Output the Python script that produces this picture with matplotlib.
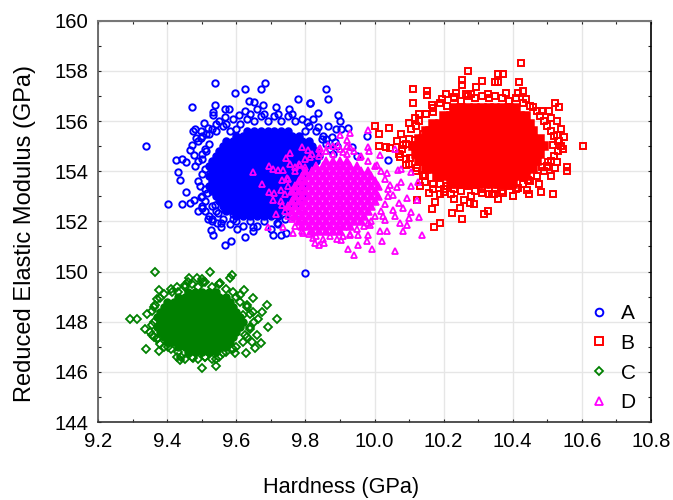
#!/usr/bin/env python3
"""Reduced elastic modulus against hardness, four phases A-D."""

import matplotlib
matplotlib.use("Agg")
import matplotlib.pyplot as plt
from matplotlib.ticker import MultipleLocator

plt.rcParams["font.family"] = ["Liberation Sans", "DejaVu Sans"]

# --- Values ------------------------------------------------------------------
NAMES = ["A", "B", "C", "D"]
X_LABEL = "Hardness (GPa)"
Y_LABEL = "Reduced Elastic Modulus (GPa)"

# Solid centre of every cloud: modulus -> hardness values (points overlap there)
A_CORE = {
    152.2: [9.60, 9.62, 9.64, 9.66, 9.68, 9.70, 9.72],
    152.4: [9.57, 9.59, 9.61, 9.63, 9.65, 9.67, 9.69, 9.71, 9.73, 9.75],
    152.6: [9.56, 9.58, 9.60, 9.62, 9.64, 9.66, 9.68, 9.70, 9.72, 9.74, 9.76, 9.78],
    152.8: [9.55, 9.57, 9.59, 9.61, 9.63, 9.65, 9.67, 9.69, 9.71, 9.73, 9.75, 9.77, 9.79],
    153.0: [9.54, 9.56, 9.58, 9.60, 9.62, 9.64, 9.66, 9.68, 9.70, 9.72, 9.74, 9.76, 9.78, 9.80],
    153.2: [9.53, 9.55, 9.57, 9.59, 9.61, 9.63, 9.65, 9.67, 9.69, 9.71, 9.73, 9.75, 9.77, 9.79],
    153.4: [9.52, 9.54, 9.56, 9.58, 9.60, 9.62, 9.64, 9.66, 9.68, 9.70, 9.72, 9.74, 9.76, 9.78, 9.80],
    153.6: [9.53, 9.55, 9.57, 9.59, 9.61, 9.63, 9.65, 9.67, 9.69, 9.71, 9.73, 9.75, 9.77, 9.79],
    153.8: [9.52, 9.54, 9.56, 9.58, 9.60, 9.62, 9.64, 9.66, 9.68, 9.70, 9.72, 9.74, 9.76, 9.78, 9.80],
    154.0: [9.53, 9.55, 9.57, 9.59, 9.61, 9.63, 9.65, 9.67, 9.69, 9.71, 9.73, 9.75, 9.77, 9.79, 9.81],
    154.2: [9.52, 9.54, 9.56, 9.58, 9.60, 9.62, 9.64, 9.66, 9.68, 9.70, 9.72, 9.74, 9.76, 9.78, 9.80, 9.82],
    154.4: [9.53, 9.55, 9.57, 9.59, 9.61, 9.63, 9.65, 9.67, 9.69, 9.71, 9.73, 9.75, 9.77, 9.79, 9.81, 9.83],
    154.6: [9.54, 9.56, 9.58, 9.60, 9.62, 9.64, 9.66, 9.68, 9.70, 9.72, 9.74, 9.76, 9.78, 9.80, 9.82, 9.84],
    154.8: [9.55, 9.57, 9.59, 9.61, 9.63, 9.65, 9.67, 9.69, 9.71, 9.73, 9.75, 9.77, 9.79, 9.81, 9.83],
    155.0: [9.56, 9.58, 9.60, 9.62, 9.64, 9.66, 9.68, 9.70, 9.72, 9.74, 9.76, 9.78, 9.80, 9.82],
    155.2: [9.57, 9.59, 9.61, 9.63, 9.65, 9.67, 9.69, 9.71, 9.73, 9.75, 9.77, 9.79, 9.81],
    155.4: [9.60, 9.62, 9.64, 9.66, 9.68, 9.70, 9.72, 9.74, 9.76, 9.78],
    155.6: [9.63, 9.65, 9.67, 9.69, 9.71, 9.73, 9.75],
}
B_CORE = {
    153.5: [10.22, 10.24, 10.26, 10.28, 10.30, 10.32, 10.34, 10.36, 10.38, 10.40],
    153.8: [10.18, 10.20, 10.22, 10.24, 10.26, 10.28, 10.30, 10.32, 10.34, 10.36, 10.38, 10.40, 10.42, 10.44],
    154.1: [10.15, 10.16, 10.18, 10.20, 10.22, 10.24, 10.26, 10.28, 10.30, 10.32, 10.34, 10.36, 10.38, 10.40, 10.42, 10.44, 10.46],
    154.4: [10.13, 10.14, 10.16, 10.18, 10.20, 10.22, 10.24, 10.26, 10.28, 10.30, 10.32, 10.34, 10.36, 10.38, 10.40, 10.42, 10.44, 10.46, 10.47],
    154.7: [10.12, 10.13, 10.15, 10.17, 10.19, 10.21, 10.23, 10.25, 10.27, 10.29, 10.31, 10.33, 10.35, 10.37, 10.39, 10.41, 10.43, 10.45, 10.47, 10.48],
    155.0: [10.11, 10.12, 10.14, 10.16, 10.18, 10.20, 10.22, 10.24, 10.26, 10.28, 10.30, 10.32, 10.34, 10.36, 10.38, 10.40, 10.42, 10.44, 10.46, 10.48, 10.49],
    155.3: [10.13, 10.14, 10.16, 10.18, 10.20, 10.22, 10.24, 10.26, 10.28, 10.30, 10.32, 10.34, 10.36, 10.38, 10.40, 10.42, 10.44, 10.46, 10.48],
    155.6: [10.15, 10.16, 10.18, 10.20, 10.22, 10.24, 10.26, 10.28, 10.30, 10.32, 10.34, 10.36, 10.38, 10.40, 10.42, 10.44, 10.46],
    155.9: [10.17, 10.19, 10.21, 10.23, 10.25, 10.27, 10.29, 10.31, 10.33, 10.35, 10.37, 10.39, 10.41, 10.43, 10.45],
    156.2: [10.20, 10.22, 10.24, 10.26, 10.28, 10.30, 10.32, 10.34, 10.36, 10.38, 10.40, 10.42, 10.44],
    156.5: [10.23, 10.25, 10.27, 10.29, 10.31, 10.33, 10.35, 10.37, 10.39, 10.41],
}
C_CORE = {
    146.8: [9.46, 9.48, 9.50, 9.52, 9.54],
    147.0: [9.43, 9.45, 9.47, 9.49, 9.51, 9.53, 9.55, 9.57],
    147.2: [9.40, 9.42, 9.44, 9.46, 9.48, 9.50, 9.52, 9.54, 9.56, 9.58],
    147.4: [9.39, 9.41, 9.43, 9.45, 9.47, 9.49, 9.51, 9.53, 9.55, 9.57, 9.59],
    147.6: [9.38, 9.40, 9.42, 9.44, 9.46, 9.48, 9.50, 9.52, 9.54, 9.56, 9.58, 9.60],
    147.8: [9.37, 9.39, 9.41, 9.43, 9.45, 9.47, 9.49, 9.51, 9.53, 9.55, 9.57, 9.59, 9.61],
    148.0: [9.38, 9.40, 9.42, 9.44, 9.46, 9.48, 9.50, 9.52, 9.54, 9.56, 9.58, 9.60, 9.62],
    148.2: [9.37, 9.39, 9.41, 9.43, 9.45, 9.47, 9.49, 9.51, 9.53, 9.55, 9.57, 9.59, 9.61],
    148.4: [9.38, 9.40, 9.42, 9.44, 9.46, 9.48, 9.50, 9.52, 9.54, 9.56, 9.58, 9.60],
    148.6: [9.39, 9.41, 9.43, 9.45, 9.47, 9.49, 9.51, 9.53, 9.55, 9.57, 9.59],
    148.8: [9.40, 9.42, 9.44, 9.46, 9.48, 9.50, 9.52, 9.54, 9.56, 9.58],
    149.0: [9.43, 9.45, 9.47, 9.49, 9.51, 9.53, 9.55, 9.57],
    149.2: [9.46, 9.48, 9.50, 9.52, 9.54],
}
D_CORE = {
    151.6: [9.82, 9.84, 9.86, 9.88, 9.90],
    151.8: [9.79, 9.81, 9.83, 9.85, 9.87, 9.89, 9.91, 9.93],
    152.0: [9.78, 9.80, 9.82, 9.84, 9.86, 9.88, 9.90, 9.92, 9.94, 9.96],
    152.2: [9.77, 9.79, 9.81, 9.83, 9.85, 9.87, 9.89, 9.91, 9.93, 9.95, 9.97],
    152.4: [9.76, 9.78, 9.80, 9.82, 9.84, 9.86, 9.88, 9.90, 9.92, 9.94, 9.96, 9.98],
    152.6: [9.75, 9.77, 9.79, 9.81, 9.83, 9.85, 9.87, 9.89, 9.91, 9.93, 9.95, 9.97, 9.99],
    152.8: [9.76, 9.78, 9.80, 9.82, 9.84, 9.86, 9.88, 9.90, 9.92, 9.94, 9.96, 9.98, 10.00],
    153.0: [9.77, 9.79, 9.81, 9.83, 9.85, 9.87, 9.89, 9.91, 9.93, 9.95, 9.97, 9.99, 10.01],
    153.2: [9.76, 9.78, 9.80, 9.82, 9.84, 9.86, 9.88, 9.90, 9.92, 9.94, 9.96, 9.98, 10.00],
    153.4: [9.77, 9.79, 9.81, 9.83, 9.85, 9.87, 9.89, 9.91, 9.93, 9.95, 9.97, 9.99, 10.01],
    153.6: [9.78, 9.80, 9.82, 9.84, 9.86, 9.88, 9.90, 9.92, 9.94, 9.96, 9.98, 10.00],
    153.8: [9.79, 9.81, 9.83, 9.85, 9.87, 9.89, 9.91, 9.93, 9.95, 9.97, 9.99],
    154.0: [9.80, 9.82, 9.84, 9.86, 9.88, 9.90, 9.92, 9.94, 9.96, 9.98],
    154.2: [9.83, 9.85, 9.87, 9.89, 9.91, 9.93, 9.95],
    154.4: [9.86, 9.88, 9.90, 9.92],
}

# Ragged edge of each centre
A_RIM = [
    (9.50, 153.0), (9.51, 153.3), (9.49, 153.6), (9.50, 153.9), (9.51, 154.1), (9.49, 154.4), (9.50, 154.7),
    (9.51, 154.9), (9.52, 155.1), (9.49, 155.2), (9.50, 155.4), (9.51, 152.8), (9.50, 152.6), (9.52, 155.5),
    (9.53, 155.7), (9.51, 152.4), (9.52, 152.2), (9.54, 155.9), (9.53, 152.0), (9.55, 156.0), (9.57, 155.9),
    (9.59, 156.1), (9.61, 155.9), (9.63, 156.1), (9.65, 156.0), (9.67, 156.2), (9.69, 156.0), (9.71, 156.2),
    (9.73, 156.0), (9.75, 156.2), (9.77, 156.0), (9.79, 156.1), (9.81, 155.8), (9.83, 155.6), (9.85, 155.4),
    (9.60, 155.7), (9.64, 156.3), (9.68, 156.3), (9.72, 156.3), (9.76, 156.3), (9.80, 155.6), (9.56, 152.1),
    (9.58, 151.9), (9.60, 152.0), (9.62, 151.8), (9.64, 152.0), (9.66, 151.8), (9.68, 152.0), (9.70, 151.7),
    (9.72, 151.9), (9.74, 152.1), (9.76, 152.2), (9.78, 152.3), (9.86, 155.1), (9.87, 154.9), (9.88, 154.7),
    (9.86, 155.3), (9.89, 155.0), (9.54, 155.6), (9.56, 155.8), (9.58, 155.6), (9.54, 152.4), (9.53, 152.6),
]
B_RIM = [
    (10.12, 155.8), (10.14, 155.5), (10.10, 155.3), (10.09, 155.1), (10.08, 154.9), (10.07, 154.7), (10.09, 154.5),
    (10.10, 154.3), (10.12, 154.0), (10.14, 153.8), (10.17, 153.5), (10.20, 153.3), (10.13, 156.0), (10.15, 156.3),
    (10.17, 156.5), (10.19, 156.7), (10.21, 156.6), (10.23, 156.9), (10.25, 156.8), (10.27, 157.0), (10.29, 156.9),
    (10.31, 157.0), (10.33, 156.9), (10.35, 157.0), (10.37, 156.9), (10.39, 156.8), (10.41, 156.9), (10.43, 156.7),
    (10.45, 156.6), (10.47, 156.4), (10.48, 156.2), (10.49, 156.0), (10.50, 155.8), (10.51, 155.6), (10.52, 155.4),
    (10.53, 155.2), (10.54, 155.0), (10.53, 154.8), (10.52, 154.6), (10.51, 154.4), (10.50, 154.2), (10.49, 154.0),
    (10.47, 153.8), (10.45, 153.6), (10.43, 153.5), (10.41, 153.3), (10.39, 153.4), (10.37, 153.2), (10.35, 153.3),
    (10.33, 153.1), (10.31, 153.3), (10.29, 153.2), (10.27, 153.4), (10.25, 153.2), (10.23, 153.3), (10.21, 153.4),
    (10.19, 153.5), (10.17, 153.3), (10.22, 153.1), (10.28, 153.0), (10.34, 153.1), (10.40, 153.0),
]
C_RIM = [
    (9.35, 147.6), (9.36, 148.0), (9.34, 148.3), (9.36, 148.6), (9.37, 148.9), (9.39, 149.1), (9.41, 149.3),
    (9.43, 149.2), (9.45, 149.4), (9.47, 149.5), (9.49, 149.4), (9.51, 149.6), (9.53, 149.4), (9.55, 149.5),
    (9.57, 149.3), (9.59, 149.2), (9.60, 149.0), (9.61, 148.8), (9.63, 148.6), (9.64, 148.3), (9.65, 148.0),
    (9.64, 147.7), (9.63, 147.4), (9.62, 147.2), (9.60, 147.0), (9.59, 146.9), (9.57, 146.8), (9.55, 146.6),
    (9.53, 146.5), (9.51, 146.6), (9.49, 146.5), (9.47, 146.6), (9.45, 146.5), (9.43, 146.8), (9.41, 146.9),
    (9.39, 147.0), (9.38, 147.1), (9.37, 147.3), (9.36, 147.4), (9.44, 146.6), (9.46, 149.6), (9.50, 149.7),
]
D_RIM = [
    (9.74, 152.4), (9.73, 152.8), (9.74, 153.1), (9.75, 153.4), (9.75, 153.7), (9.77, 154.0), (9.78, 154.3),
    (9.80, 154.5), (9.82, 154.7), (9.84, 154.6), (9.86, 154.8), (9.88, 154.7), (9.90, 154.9), (9.92, 154.7),
    (9.94, 154.8), (9.96, 154.6), (9.98, 154.4), (10.00, 154.2), (10.02, 154.0), (10.03, 153.7), (10.04, 153.3),
    (10.04, 153.0), (10.03, 152.7), (10.02, 152.4), (10.00, 152.2), (9.99, 152.0), (9.97, 151.8), (9.95, 151.7),
    (9.93, 151.5), (9.91, 151.4), (9.89, 151.3), (9.87, 151.4), (9.85, 151.3), (9.83, 151.4), (9.81, 151.5),
    (9.79, 151.6), (9.77, 151.8), (9.76, 152.1), (9.75, 152.2), (9.84, 154.9), (9.88, 155.0), (9.92, 155.0),
]

# Loose points further out
A_X = [9.337, 9.537, 9.595, 9.624, 9.671, 9.684, 9.472, 9.537, 9.531, 9.531, 9.566, 9.567, 9.579, 9.607, 9.625,
       9.636, 9.651, 9.661, 9.678, 9.714, 9.777, 9.812, 9.753, 9.507, 9.519, 9.473, 9.48, 9.496, 9.484, 9.498,
       9.513, 9.472, 9.465, 9.478, 9.513, 9.425, 9.443, 9.455, 9.5, 9.48, 9.432, 9.437, 9.455, 9.495, 9.402,
       9.443, 9.466, 9.478, 9.496, 9.514, 9.489, 9.5, 9.519, 9.537, 9.529, 9.543, 9.555, 9.554, 9.525, 9.531,
       9.566, 9.583, 9.625, 9.602, 9.649, 9.649, 9.707, 9.73, 9.744, 9.717, 9.591, 9.591, 9.591, 9.548, 9.567,
       9.859, 9.866, 9.813, 9.837, 9.895, 9.9, 9.866, 9.924, 9.888, 9.903, 9.878, 9.849, 9.977, 9.934, 9.948,
       10.04, 9.885, 9.823, 9.803, 9.837, 9.80]
A_Y = [155.01, 157.53, 157.13, 157.29, 157.27, 157.53, 156.55, 156.65, 156.37, 156.24, 156.16, 156.46, 156.46, 156.24, 156.4,
       156.8, 156.77, 156.48, 156.65, 156.57, 156.89, 156.73, 156.48, 155.93, 155.74, 155.6, 155.68, 155.61, 155.32, 155.32,
       155.5, 155.03, 154.85, 154.65, 154.79, 154.45, 154.48, 154.36, 154.47, 154.21, 153.98, 153.64, 153.16, 153.4, 152.69,
       152.69, 152.75, 152.85, 152.99, 153.15, 152.43, 152.53, 152.1, 152.67, 152.1, 151.95, 151.95, 151.78, 151.64, 151.46,
       151.06, 151.22, 151.38, 151.7, 151.78, 151.61, 151.46, 151.45, 151.52, 151.95, 152.58, 152.31, 152.11, 152.34, 152.45,
       157.29, 156.88, 156.73, 156.33, 156.24, 156.0, 155.82, 155.74, 155.68, 155.67, 155.35, 155.27, 155.41, 154.97, 154.61,
       154.44, 155.17, 156.1, 155.97, 155.77, 149.93]

B_X = [10.423, 10.27, 10.253, 10.253, 10.311, 10.294, 10.357, 10.372, 10.349, 10.357, 10.417, 10.112, 10.153, 10.153, 10.112,
       10.165, 10.206, 10.235, 10.195, 10.229, 10.264, 10.28, 10.329, 10.382, 10.431, 10.44, 10.415, 10.46, 10.484, 10.506,
       10.522, 10.535, 10.511, 10.529, 10.541, 10.529, 10.548, 10.535, 10.547, 10.605, 10.518, 10.529, 10.503, 10.484, 10.5,
       10.523, 10.556, 10.558, 10.512, 10.475, 10.445, 10.442, 10.446, 10.482, 10.517, 10.4, 10.416, 10.358, 10.347, 10.373,
       10.31, 10.329, 10.318, 10.288, 10.276, 10.259, 10.23, 10.247, 10.224, 10.253, 10.189, 10.171, 10.165, 10.176, 10.124,
       10.159, 10.189, 10.201, 10.131, 10.146, 10.146, 10.122, 10.091, 10.103, 10.074, 10.045, 10.033, 10.012, 10.012, 10.0,
       10.041, 10.076, 10.065, 10.105, 10.1, 10.118, 10.13, 10.149, 10.17, 10.117, 10.083]
B_Y = [158.32, 158.01, 157.62, 157.43, 157.61, 157.37, 157.86, 157.86, 157.54, 157.54, 157.54, 157.29, 157.21, 157.02, 156.73,
       156.64, 157.06, 157.13, 156.88, 156.97, 157.06, 157.06, 157.06, 157.13, 157.21, 156.88, 157.13, 156.57, 156.41, 156.41,
       156.73, 156.56, 156.14, 156.0, 155.67, 155.43, 155.35, 155.19, 154.87, 155.01, 155.03, 154.38, 154.38, 154.15, 154.15,
       154.14, 154.15, 154.02, 153.82, 153.48, 153.64, 153.25, 153.09, 153.17, 153.09, 153.01, 153.31, 152.91, 153.09, 153.14,
       153.15, 152.42, 152.29, 152.69, 152.75, 152.85, 152.91, 152.53, 152.34, 152.11, 151.95, 151.78, 152.51, 152.77, 152.85,
       153.15, 153.09, 153.17, 153.4, 153.58, 153.84, 154.11, 154.24, 154.53, 154.58, 154.91, 154.97, 155.01, 155.5, 155.82,
       155.74, 155.5, 155.19, 155.67, 155.92, 156.14, 156.3, 156.3, 156.37, 155.24, 155.04]

C_X = [9.363, 9.293, 9.311, 9.334, 9.355, 9.355, 9.339, 9.376, 9.375, 9.355, 9.429, 9.463, 9.487, 9.523, 9.581,
       9.587, 9.623, 9.647, 9.688, 9.673, 9.663, 9.717, 9.692, 9.639, 9.659, 9.672, 9.654, 9.628, 9.597, 9.54,
       9.54, 9.5, 9.437, 9.475, 9.509, 9.562, 9.63, 9.61, 9.552, 9.504, 9.413, 9.451, 9.644, 9.625, 9.62,
       9.649, 9.379, 9.364, 9.374, 9.403, 9.427]
C_Y = [149.97, 148.12, 148.12, 147.72, 147.47, 147.87, 146.91, 146.82, 149.28, 148.44, 149.37, 149.76, 149.76, 150.0, 149.73,
       149.85, 149.28, 148.96, 148.67, 148.4, 148.09, 148.12, 147.8, 147.8, 147.47, 147.14, 146.94, 146.76, 146.74, 146.51,
       146.23, 146.17, 146.47, 146.54, 146.6, 146.74, 148.67, 149.06, 149.53, 149.6, 149.2, 149.46, 147.2, 147.47, 148.27,
       148.4, 148.93, 148.67, 147.34, 147.0, 146.6]

D_X = [9.649, 9.673, 9.694, 9.707, 9.719, 9.736, 9.745, 9.755, 9.755, 9.789, 9.808, 9.784, 9.798, 9.769, 9.731,
       9.747, 9.695, 9.708, 9.707, 9.728, 9.731, 9.714, 9.691, 9.736, 9.764, 9.793, 9.822, 9.827, 9.839, 9.853,
       9.924, 9.941, 9.953, 9.977, 9.982, 10.023, 9.994, 10.059, 10.136, 10.083, 10.095, 10.035, 10.017, 10.075, 10.1,
       10.129, 10.059, 10.03, 9.986, 9.929, 9.953, 9.904, 10.107, 10.083, 10.07, 10.093, 10.122, 10.054, 10.064, 10.078,
       10.044, 10.035, 10.069, 10.078, 10.107, 10.125, 10.107, 10.006, 10.015, 9.982, 9.985, 9.982, 9.93, 9.9, 9.919,
       9.866, 9.895, 9.929, 9.842, 10.059, 9.842, 9.813, 9.909, 9.958, 10.054, 10.025, 9.982]
D_Y = [153.98, 153.49, 154.2, 154.1, 154.05, 154.05, 154.51, 154.74, 154.29, 154.95, 154.84, 154.25, 154.18, 154.18, 153.65,
       153.71, 153.16, 153.12, 152.85, 153.25, 152.66, 152.29, 151.79, 151.76, 151.52, 151.52, 151.32, 151.12, 151.05, 151.12,
       150.89, 150.66, 151.05, 151.23, 151.45, 151.23, 150.89, 150.82, 151.45, 151.63, 151.85, 151.63, 151.63, 151.95, 152.12,
       152.19, 152.21, 152.05, 151.85, 151.45, 151.45, 151.25, 152.36, 152.52, 152.72, 152.92, 152.85, 153.05, 153.38, 153.58,
       153.45, 153.91, 154.05, 154.07, 153.98, 153.58, 153.41, 154.25, 154.64, 154.98, 154.82, 155.64, 155.51, 155.44, 155.24,
       155.04, 155.04, 154.98, 154.91, 154.87, 154.71, 154.58, 154.78, 154.58, 152.45, 152.21, 151.92]


def flatten(rows):
    """Turns {modulus: [hardness, ...]} into two flat lists."""
    xs, ys = [], []
    for y, row in rows.items():
        xs.extend(row)
        ys.extend([y] * len(row))
    return xs, ys


# --- Figure ------------------------------------------------------------------
fig = plt.figure(figsize=(6.73, 5.0), dpi=100, facecolor="white")
ax = fig.add_axes([98.3 / 673, 1 - 422 / 500, 552.5 / 673, 401.3 / 500])

styles = [
    ("#0000ff", "o", 4.6, 1.4, "o", 5.0, A_CORE, A_RIM, A_X, A_Y),
    ("#ff0000", "s", 4.6, 1.4, "s", 5.2, B_CORE, B_RIM, B_X, B_Y),
    ("#008000", "D", 3.6, 1.3, "o", 5.0, C_CORE, C_RIM, C_X, C_Y),
    ("#ff00ff", "^", 4.9, 1.3, "^", 6.2, D_CORE, D_RIM, D_X, D_Y),
]
for name, (color, marker, size, edge, core_marker, core_size, core, rim, xs, ys) in zip(NAMES, styles):
    cx, cy = flatten(core)
    rx, ry = zip(*rim)
    ax.plot(cx, cy, ls="none", marker=core_marker, ms=core_size, mfc=color, mec=color, mew=1.1, zorder=3)
    ax.plot(list(rx) + xs, list(ry) + ys, ls="none", marker=marker, ms=size, mfc="none", mec=color, mew=edge,
            label=name, zorder=3)

ax.set_xlim(9.2, 10.8)
ax.set_ylim(144, 160)
ax.xaxis.set_major_locator(MultipleLocator(0.2))
ax.xaxis.set_minor_locator(MultipleLocator(0.1))
ax.yaxis.set_major_locator(MultipleLocator(2))
ax.yaxis.set_minor_locator(MultipleLocator(1))
ax.xaxis.set_major_formatter(lambda v, pos: f"{v:.1f}")

ax.grid(True, which="major", color="#e6e6e6", lw=1.0, zorder=0)
ax.set_axisbelow(True)
ax.tick_params(which="both", direction="in", length=2, width=0.8, top=True, right=True,
               labelsize=14.6, pad=7, color="#222222")

ax.spines["left"].set(color="#555555", lw=1.2)
ax.spines["bottom"].set(color="#333333", lw=1.2)
ax.spines["top"].set(color="#777777", lw=1.5)
ax.spines["right"].set(color="#000000", lw=1.2)

fig.text(341 / 673, 1 - 487 / 500, X_LABEL, ha="center", va="center", fontsize=15.6)
fig.text(25 / 673, 1 - 234 / 500, Y_LABEL, ha="center", va="center", rotation=90, fontsize=17)

ax.legend(loc="lower right", bbox_to_anchor=(1.003, -0.0175), frameon=False, fontsize=15,
          labelspacing=0.52, handletextpad=0.35, handlelength=1.4, borderpad=0.3, markerscale=1.2)

fig.savefig("out.png", dpi=100, facecolor="white")
